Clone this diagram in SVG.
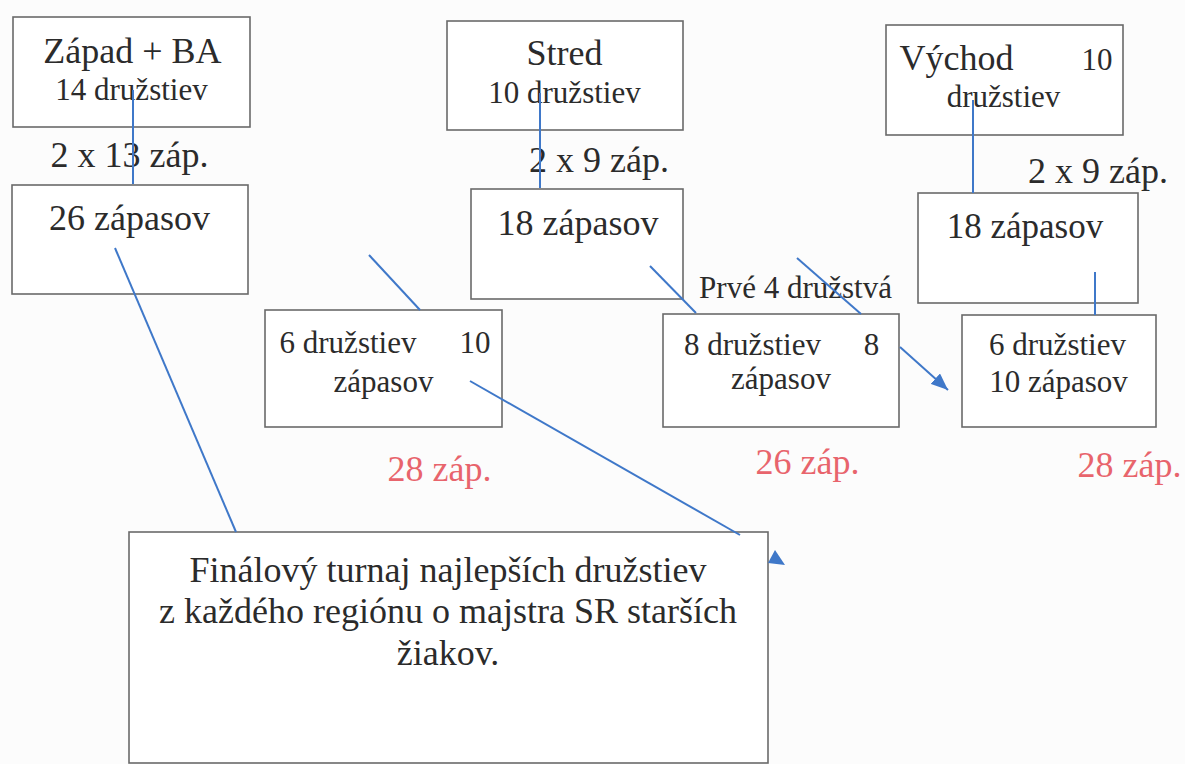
<svg xmlns="http://www.w3.org/2000/svg" width="1185" height="764" viewBox="0 0 1185 764">
  <style>
    .box { fill: #ffffff; stroke: #6a6a6a; stroke-width: 1.6; }
    .t { font-family: "Liberation Serif", "Times New Roman", serif; fill: #2b2b2b; text-anchor: middle; }
    .big { font-size: 36px; }
    .mid { font-size: 31px; }
    .red { font-family: "Liberation Serif", "Times New Roman", serif; fill: #e8646c; font-size: 36px; text-anchor: middle; }
    .con { stroke: #3f78c9; stroke-width: 2; fill: none; }
  </style>
  <defs>
    <marker id="ah" markerUnits="userSpaceOnUse" markerWidth="17" markerHeight="14" viewBox="0 0 17 14" refX="17" refY="7" orient="auto">
      <path d="M0,0 L17,7 L0,14 z" fill="#3f78c9"/>
    </marker>
  </defs>
  <rect width="1185" height="764" fill="#fcfcfc"/>

  <g id="zapad">
    <rect class="box" x="13" y="17" width="237" height="110"/>
    <text class="t big" x="132.5" y="63">Západ + BA</text>
    <text class="t mid" x="131.5" y="100">14 družstiev</text>
  </g>
  <g id="zapad-zap">
    <rect class="box" x="12" y="185" width="236" height="109"/>
    <text class="t big" x="129.5" y="230">26 zápasov</text>
  </g>
  <g id="stred">
    <rect class="box" x="447" y="21" width="236" height="109"/>
    <text class="t big" x="564.5" y="65">Stred</text>
    <text class="t mid" x="564.5" y="103">10 družstiev</text>
  </g>
  <g id="stred-zap">
    <rect class="box" x="471" y="189" width="212" height="110"/>
    <text class="t big" x="578" y="235">18 zápasov</text>
  </g>
  <g id="vychod">
    <rect class="box" x="886" y="25" width="237" height="110"/>
    <text class="t big" x="956.5" y="70">Východ</text>
    <text class="t mid" x="1097" y="70">10</text>
    <text class="t mid" x="1003.5" y="107">družstiev</text>
  </g>
  <g id="vychod-zap">
    <rect class="box" x="918" y="193" width="220" height="110"/>
    <text class="t big" x="1025" y="238" style="font-size:35px">18 zápasov</text>
  </g>
  <g id="zapad-final">
    <rect class="box" x="265" y="310" width="237" height="117"/>
    <text class="t mid" x="348" y="353">6 družstiev</text>
    <text class="t mid" x="475" y="353">10</text>
    <text class="t mid" x="383.5" y="392">zápasov</text>
  </g>
  <g id="stred-final">
    <rect class="box" x="663" y="314" width="236" height="113"/>
    <text class="t mid" x="752.5" y="355">8 družstiev</text>
    <text class="t mid" x="871.5" y="355">8</text>
    <text class="t mid" x="781" y="389">zápasov</text>
  </g>
  <g id="vychod-final">
    <rect class="box" x="962" y="315" width="194" height="112"/>
    <text class="t mid" x="1057.5" y="355">6 družstiev</text>
    <text class="t mid" x="1058.5" y="392">10 zápasov</text>
  </g>
  <g id="final">
    <rect class="box" x="129" y="532" width="639" height="231"/>
    <text class="t big" x="448" y="582">Finálový turnaj najlepších družstiev</text>
    <text class="t big" x="448" y="623">z každého regiónu o majstra SR starších</text>
    <text class="t big" x="448" y="665">žiakov.</text>
  </g>

  <g id="labels">
    <text class="t big" x="129.5" y="167">2 x 13 záp.</text>
    <text class="t big" x="599" y="172">2 x 9 záp.</text>
    <text class="t big" x="1098" y="183">2 x 9 záp.</text>
    <text class="t mid" x="795.5" y="298">Prvé 4 družstvá</text>
    <text class="red" x="439.5" y="481">28 záp.</text>
    <text class="red" x="807.5" y="474">26 záp.</text>
    <text class="red" x="1129.5" y="477">28 záp.</text>
  </g>

  <g id="connectors">
    <line class="con" x1="133" y1="90" x2="133" y2="184"/>
    <line class="con" x1="115" y1="248" x2="236" y2="532"/>
    <line class="con" x1="369" y1="255" x2="420" y2="310"/>
    <line class="con" x1="540" y1="93" x2="540" y2="188"/>
    <line class="con" x1="650" y1="266" x2="696" y2="313"/>
    <line class="con" x1="797" y1="258" x2="861" y2="314"/>
    <line class="con" x1="973" y1="100" x2="973" y2="193"/>
    <line class="con" x1="1095" y1="272" x2="1095" y2="315"/>
    <line class="con" x1="900" y1="347" x2="948" y2="390" marker-end="url(#ah)"/>
    <line class="con" x1="470" y1="381" x2="740" y2="535"/>
    <polygon points="785,565 775,550 768,563" fill="#3f78c9"/>
  </g>
</svg>
